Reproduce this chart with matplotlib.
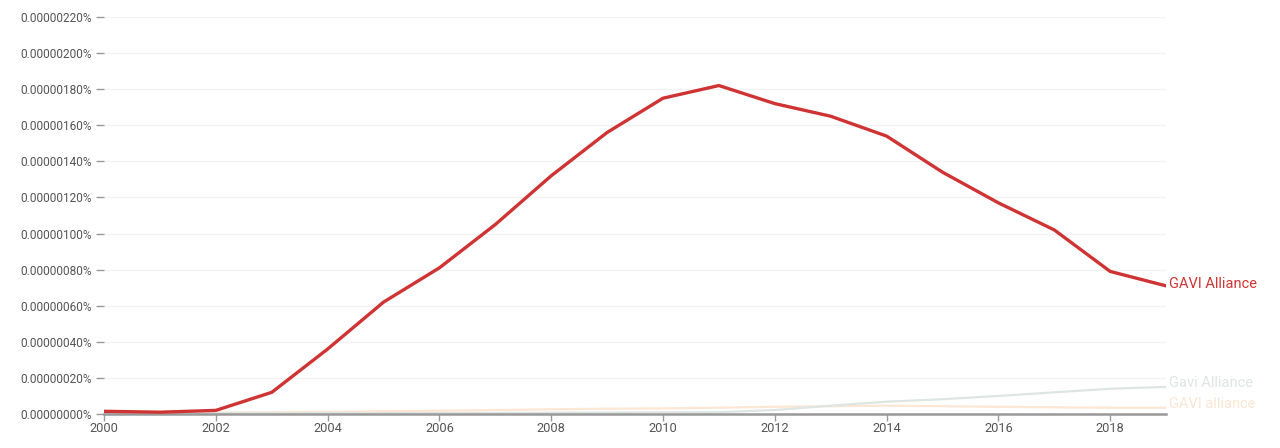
import matplotlib.pyplot as plt
import numpy as np
from matplotlib.ticker import FuncFormatter, FixedLocator

plt.rcParams["font.family"] = ["Roboto", "DejaVu Sans"]

years = list(range(2000, 2020))

# values in units of 1e-8 percent
gavi_alliance_upper = [1.5, 1.0, 2.0, 12, 36, 62, 81, 105, 132, 156,
                       175, 182, 172, 165, 154, 134, 117, 102, 79, 71]
gavi_alliance_mixed = [0.4, 0.4, 0.4, 0.4, 0.5, 0.5, 0.5, 0.6, 0.7, 0.8,
                       0.9, 1.0, 2.2, 4.6, 6.8, 8.2, 10.0, 12.0, 14.0, 15.0]
gavi_alliance_lower = [0.5, 0.6, 0.8, 1.0, 1.2, 1.5, 1.8, 2.2, 2.6, 2.9,
                       3.1, 3.5, 4.0, 4.3, 4.6, 4.3, 4.0, 3.7, 3.5, 3.5]

series_names = ["GAVI Alliance", "Gavi Alliance", "GAVI alliance"]
series_colors = ["#cf3434", "#dde6e2", "#fce6d4"]
series_values = [gavi_alliance_upper, gavi_alliance_mixed, gavi_alliance_lower]

y_ticks = list(range(0, 221, 20))
x_ticks = list(range(2000, 2019, 2))

fig = plt.figure(figsize=(12.8, 4.48), dpi=100)
ax = fig.add_axes([0.0813, 0.0759, 0.8297, 0.8862])

for name, color, vals, lw, z in zip(series_names[::-1], series_colors[::-1],
                                    series_values[::-1], [1.6, 1.6, 2.4], [2, 2, 3]):
    ax.plot(years, vals, color=color, lw=lw, zorder=z, solid_capstyle="round")

# end labels
label_offsets = [0.8, 2.2, 2.0]
for name, color, vals, off in zip(series_names, series_colors, series_values, label_offsets):
    ax.text(years[-1] + 0.06, vals[-1] + off, name, color=color, fontsize=10.5,
            ha="left", va="center", clip_on=False)

ax.set_xlim(2000, 2019)
ax.set_ylim(0, 220)
ax.xaxis.set_major_locator(FixedLocator(x_ticks))
ax.yaxis.set_major_locator(FixedLocator(y_ticks))
ax.yaxis.set_major_formatter(FuncFormatter(lambda v, p: f"{v * 1e-8:.8f}%"))

ax.grid(axis="y", color="#f3f3f3", lw=1)
ax.set_axisbelow(True)
for side in ["top", "right", "left"]:
    ax.spines[side].set_visible(False)
ax.spines["bottom"].set_color("#999999")
ax.spines["bottom"].set_linewidth(1.8)

ax.tick_params(axis="y", length=6, width=1, color="#9a9a9a", labelcolor="#555555",
               labelsize=8.6, pad=3)
ax.tick_params(axis="x", length=5, width=1, color="#9a9a9a", labelcolor="#555555",
               labelsize=9.2, pad=1)

fig.savefig("out.png", dpi=100, facecolor="white")
